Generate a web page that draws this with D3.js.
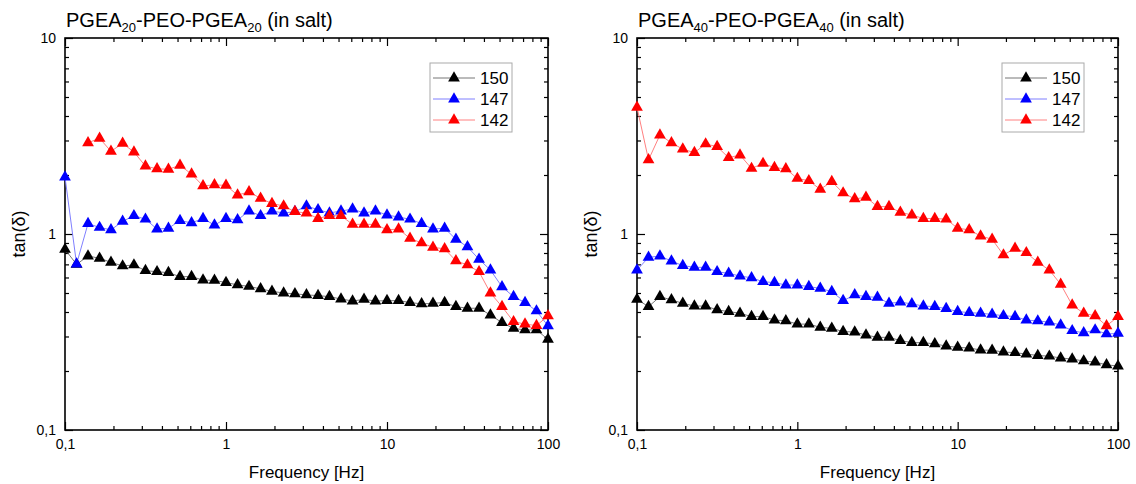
<!DOCTYPE html>
<html>
<head>
<meta charset="utf-8">
<script src="https://cdn.jsdelivr.net/npm/d3@7"></script>
<style>
  body { margin: 0; background: #fff; }
  svg { font-family: Arial, 'Liberation Sans', sans-serif; }
</style>
</head>
<body>
<svg id="chart" width="1136" height="484"></svg>
<script>
// frequency points [Hz], same for all series
const freq = [0.1, 0.118, 0.139, 0.164, 0.193, 0.228, 0.268, 0.316, 0.373, 0.439, 0.518, 0.611, 0.72, 0.848,
  1, 1.18, 1.39, 1.64, 1.93, 2.28, 2.68, 3.16, 3.73, 4.39, 5.18, 6.11, 7.2, 8.48,
  10, 11.8, 13.9, 16.4, 19.3, 22.8, 26.8, 31.6, 37.3, 43.9, 51.8, 61.1, 72, 84.8, 100];

// PGEA20-PEO-PGEA20
const left150 = [0.835, 0.70, 0.772, 0.752, 0.717, 0.687, 0.695, 0.65, 0.642, 0.635, 0.606, 0.606, 0.582, 0.58,
  0.565, 0.55, 0.54, 0.525, 0.51, 0.50, 0.495, 0.489, 0.485, 0.479, 0.466, 0.455, 0.464, 0.455,
  0.457, 0.457, 0.447, 0.44, 0.443, 0.447, 0.426, 0.418, 0.418, 0.386, 0.353, 0.33, 0.324, 0.324, 0.29];
const left147 = [1.95, 0.703, 1.13, 1.08, 1.05, 1.16, 1.24, 1.19, 1.06, 1.07, 1.17, 1.14, 1.20, 1.11,
  1.20, 1.18, 1.31, 1.24, 1.31, 1.28, 1.30, 1.39, 1.33, 1.28, 1.31, 1.34, 1.28, 1.31,
  1.25, 1.22, 1.19, 1.13, 1.06, 1.07, 0.94, 0.86, 0.743, 0.655, 0.538, 0.479, 0.447, 0.405, 0.34];
const left142 = [null, null, 2.92, 3.08, 2.64, 2.90, 2.62, 2.22, 2.15, 2.14, 2.24, 2.02, 1.76, 1.78,
  1.77, 1.58, 1.64, 1.52, 1.43, 1.39, 1.30, 1.28, 1.20, 1.24, 1.24, 1.12, 1.12, 1.12,
  1.05, 1.06, 0.95, 0.90, 0.855, 0.84, 0.73, 0.695, 0.642, 0.50, 0.426, 0.357, 0.347, 0.341, 0.382];

// PGEA40-PEO-PGEA40
const right150 = [0.464, 0.426, 0.479, 0.461, 0.443, 0.429, 0.429, 0.41, 0.402, 0.394, 0.379, 0.379, 0.364, 0.361,
  0.347, 0.347, 0.334, 0.33, 0.318, 0.316, 0.305, 0.297, 0.297, 0.286, 0.279, 0.279, 0.275, 0.268,
  0.264, 0.262, 0.256, 0.255, 0.25, 0.248, 0.244, 0.24, 0.238, 0.233, 0.23, 0.225, 0.222, 0.215, 0.212];
const right147 = [0.655, 0.76, 0.772, 0.728, 0.69, 0.676, 0.676, 0.642, 0.63, 0.61, 0.598, 0.571, 0.565, 0.549,
  0.549, 0.539, 0.528, 0.508, 0.457, 0.489, 0.479, 0.475, 0.443, 0.449, 0.44, 0.429, 0.426, 0.416,
  0.402, 0.397, 0.394, 0.389, 0.383, 0.379, 0.364, 0.36, 0.355, 0.343, 0.321, 0.313, 0.324, 0.309, 0.311];
const right142 = [4.43, 2.39, 3.20, 2.92, 2.71, 2.60, 2.88, 2.79, 2.45, 2.53, 2.16, 2.29, 2.18, 2.15,
  1.92, 1.87, 1.69, 1.85, 1.62, 1.51, 1.54, 1.38, 1.38, 1.29, 1.25, 1.20, 1.20, 1.19,
  1.07, 1.05, 0.977, 0.94, 0.782, 0.845, 0.803, 0.717, 0.655, 0.554, 0.434, 0.394, 0.382, 0.34, 0.379];

const seriesNames = ['150', '147', '142'];
const markColors = ['#000000', '#0000ff', '#ff0000'];
const lineColors = ['#777777', '#7f7fff', '#ff8080'];
const xTicks = [0.1, 1, 10, 100];
const xTickLabels = ['0,1', '1', '10', '100'];
const yTicks = [0.1, 1, 10];
const yTickLabels = ['0,1', '1', '10'];

const panels = [
  { sub: '20', left: 65, right: 548, data: [left150, left147, left142] },
  { sub: '40', left: 637, right: 1118, data: [right150, right147, right142] }
];

const TOP = 38, BOTTOM = 430;
const svg = d3.select('#chart');
const tri = d3.symbol().type(d3.symbolTriangle).size(60);

panels.forEach(p => {
  const x = d3.scaleLog().domain([0.1, 100]).range([p.left, p.right]);
  const y = d3.scaleLog().domain([0.1, 10]).range([BOTTOM, TOP]);
  const g = svg.append('g');

  const xMinor = x.ticks().filter(t => xTicks.indexOf(t) < 0);
  const yMinor = y.ticks().filter(t => yTicks.indexOf(t) < 0);

  // major + minor ticks, pointing inward on all four sides
  const axes = [
    [d3.axisBottom(x), `translate(0,${BOTTOM})`, xTicks, xMinor, xTickLabels],
    [d3.axisTop(x), `translate(0,${TOP})`, xTicks, xMinor, null],
    [d3.axisLeft(y), `translate(${p.left},0)`, yTicks, yMinor, yTickLabels],
    [d3.axisRight(y), `translate(${p.right},0)`, yTicks, yMinor, null]
  ];
  axes.forEach(([ax, tr, major, minor, labels]) => {
    g.append('g').attr('transform', tr)
      .call(ax.tickValues(minor).tickSizeInner(-4).tickSizeOuter(0).tickFormat(''))
      .call(s => s.select('.domain').remove());
    const a = g.append('g').attr('transform', tr)
      .call(ax.tickValues(major).tickSizeInner(-8).tickSizeOuter(0).tickPadding(9)
        .tickFormat((d, i) => labels ? labels[i] : ''))
      .call(s => s.select('.domain').remove());
    a.selectAll('text').attr('font-size', 14).attr('fill', '#000')
      .attr('font-family', "Arial, 'Liberation Sans', sans-serif");
  });
  g.selectAll('.tick line').attr('stroke', '#000').attr('stroke-width', 1.2);

  g.append('rect')
    .attr('x', p.left).attr('y', TOP)
    .attr('width', p.right - p.left).attr('height', BOTTOM - TOP)
    .attr('fill', 'none').attr('stroke', '#000').attr('stroke-width', 1.6);

  // series
  const line = d3.line()
    .defined(d => d[1] != null)
    .x(d => x(d[0])).y(d => y(d[1]));

  p.data.forEach((vals, k) => {
    const pts = freq.map((f, i) => [f, vals[i]]);
    g.append('path').datum(pts)
      .attr('d', line)
      .attr('fill', 'none')
      .attr('stroke', lineColors[k])
      .attr('stroke-width', 1);
    g.selectAll('.m' + k)
      .data(pts.filter(d => d[1] != null))
      .enter().append('path')
      .attr('class', 'm' + k)
      .attr('d', tri)
      .attr('transform', d => `translate(${x(d[0])},${y(d[1])})`)
      .attr('fill', markColors[k]);
  });

  // title
  const t = g.append('text')
    .attr('x', p.left + 1).attr('y', 27)
    .attr('font-size', 20).attr('fill', '#000');
  t.append('tspan').text('PGEA');
  t.append('tspan').attr('font-size', 13).attr('dy', 5).text(p.sub);
  t.append('tspan').attr('dy', -5).text('-PEO-PGEA');
  t.append('tspan').attr('font-size', 13).attr('dy', 5).text(p.sub);
  t.append('tspan').attr('dy', -5).text(' (in salt)');

  // axis titles
  g.append('text')
    .attr('transform', `translate(${p.left - 40},${(TOP + BOTTOM) / 2}) rotate(-90)`)
    .attr('text-anchor', 'middle')
    .attr('font-size', 18).attr('fill', '#000')
    .text('tan(δ)');
  g.append('text')
    .attr('x', (p.left + p.right) / 2).attr('y', 478)
    .attr('text-anchor', 'middle')
    .attr('font-size', 17).attr('fill', '#000')
    .text('Frequency [Hz]');

  // legend
  const lx = p.left + 365, ly = 63;
  const leg = g.append('g').attr('transform', `translate(${lx},${ly})`);
  leg.append('rect')
    .attr('width', 82).attr('height', 69)
    .attr('fill', '#fff').attr('stroke', '#aaa').attr('stroke-width', 1);
  seriesNames.forEach((name, k) => {
    const ry = 15 + k * 21;
    leg.append('line')
      .attr('x1', 3).attr('x2', 45).attr('y1', ry).attr('y2', ry)
      .attr('stroke', lineColors[k]).attr('stroke-width', 1);
    leg.append('path').attr('d', tri)
      .attr('transform', `translate(24,${ry})`)
      .attr('fill', markColors[k]);
    leg.append('text')
      .attr('x', 50).attr('y', ry + 6)
      .attr('font-size', 17).attr('fill', '#000')
      .text(name);
  });
});
</script>
</body>
</html>
